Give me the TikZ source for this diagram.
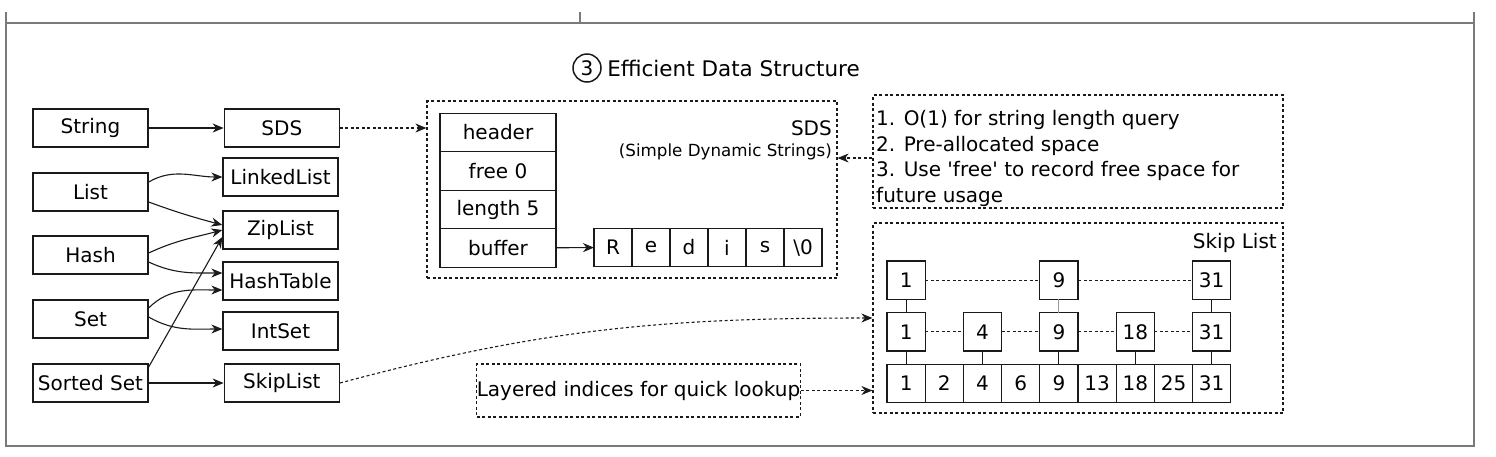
\documentclass[tikz,border=0pt]{standalone}
\usepackage{fontspec}
\setmainfont{DejaVu Sans}
\usepackage{tikz}
\usetikzlibrary{arrows.meta,positioning,calc}
\definecolor{inkgray}{HTML}{1A1A1A}
\definecolor{framegray}{HTML}{7A7A7A}
\newcommand\diagfont{\fontsize{20}{23}\selectfont}
\newcommand\notefont{\fontsize{16.7}{19}\selectfont}

\begin{document}
\begin{tikzpicture}[x=1pt,y=-1pt,
  node distance=0pt,
  typebox/.style={draw=inkgray, line width=1.3pt, minimum width=115pt,
    minimum height=38pt, inner sep=0pt, font=\diagfont},
  field/.style={draw=inkgray, line width=1.3pt, minimum width=116pt,
    minimum height=38.5pt, inner sep=0pt, outer sep=0pt, font=\diagfont},
  cell/.style={draw=inkgray, line width=1.3pt, minimum size=38.2pt,
    inner sep=0pt, outer sep=0pt, font=\diagfont},
  region/.style={draw=inkgray, line width=1.2pt, dash pattern=on 3pt off 2.5pt,
    font=\diagfont},
  arrow/.style={-{Stealth[length=11pt,width=9pt,inset=3.5pt]}, line width=1.1pt, draw=inkgray},
  hint/.style={arrow, dash pattern=on 3pt off 2.5pt},
  link/.style={line width=1.1pt, draw=inkgray, dash pattern=on 3pt off 2.5pt},
  rung/.style={line width=1.1pt, draw=inkgray},
  frame/.style={line width=1.6pt, draw=framegray}
]
\useasboundingbox (0,0) rectangle (1496,456);
% outer frame
\draw[frame] (6,12) -- (6,446) -- (1474,446) -- (1474,12);
\draw[frame] (6,23) -- (1474,23);
\draw[frame] (580,12) -- (580,23);

% title
\node[circle, draw=inkgray, line width=1.5pt, minimum size=28pt, inner sep=0pt,
  font=\diagfont] (badge) at (587,68) {3};
\node[right=2pt of badge, font=\fontsize{21.5}{24}\selectfont] (title) {Efficient Data Structure};

% data types and encodings
\node[typebox] (string) at (90.5,128) {String};
\node[typebox, right=75pt of string] (sds) {SDS};
\node[typebox] (list) at (90.5,192) {List};
\node[typebox] (hash) at (90.5,255) {Hash};
\node[typebox] (set) at (90.5,319) {Set};
\node[typebox] (zset) at (90.5,383) {Sorted Set};
\node[typebox] (linkedlist) at (280.5,177) {LinkedList};
\node[typebox] (ziplist) at (280.5,230) {ZipList};
\node[typebox] (hashtable) at (280.5,281) {HashTable};
\node[typebox] (intset) at (280.5,331) {IntSet};
\node[typebox, right=75pt of zset] (skiplist) {SkipList};

\draw[arrow] (string) -- (sds);
\draw[arrow] ([yshift=10pt]list.east) to[out=30,in=180] (linkedlist.west);
\draw[arrow] ([yshift=-10pt]list.east) to[out=-20,in=165] ([yshift=5pt]ziplist.west);
\draw[arrow] ([yshift=2pt]hash.east) to[out=25,in=195] (ziplist.west);
\draw[arrow] ([yshift=-7pt]hash.east) to[out=-25,in=180] ([yshift=8pt]hashtable.west);
\draw[arrow] ([yshift=11pt]set.east) to[out=45,in=180] ([yshift=-9pt]hashtable.west);
\draw[arrow] ([yshift=2pt]set.east) to[out=-30,in=180] ([yshift=2pt]intset.west);
\draw[arrow] ([yshift=16pt]zset.east) -- ([yshift=-7pt]ziplist.west);
\draw[arrow] (zset) -- (skiplist);

% SDS layout
\node[region, minimum width=410pt, minimum height=177pt] (sdsbox) at (632,189.5) {};
\node[field] (header) at (498,132.5) {header};
\node[field, below=of header] (free) {free 0};
\node[field, below=of free] (length) {length 5};
\node[field, below=of length] (buffer) {buffer};
\node[cell, minimum size=38pt] (cR) at (613,247.5) {R};
\node[cell, minimum size=38pt, right=of cR] (ce) {e};
\node[cell, minimum size=38pt, right=of ce] (cd) {d};
\node[cell, minimum size=38pt, right=of cd] (ci) {i};
\node[cell, minimum size=38pt, right=of ci] (cs) {s};
\node[cell, minimum size=38pt, right=of cs] (cnul) {\textbackslash 0};
\draw[arrow] (buffer) -- (cR);
\node[anchor=east, inner sep=0pt, font=\diagfont] (sdstitle) at (832,128) {SDS};
\node[anchor=east, inner sep=0pt, font=\notefont] (sdsfull) at (832,152) {(Simple Dynamic Strings)};
\draw[hint] (sds) -- (sds -| sdsbox.west);

% SDS notes
\node[region, minimum width=410pt, minimum height=113pt] (notes) at (1078,151.5) {};
\node[anchor=north west, align=left, inner sep=0pt,
  font=\fontsize{20}{25.5}\selectfont] (notetext) at (876,110.5) {1. O(1) for string length query\\
  2. Pre-allocated space\\
  3. Use \textquotesingle free\textquotesingle{} to record free space for\\
  future usage};
\coordinate (noteport) at ([yshift=-6.5pt]notes.west);
\draw[hint] (noteport) -- (noteport -| sdsbox.east);

% skip list
\node[region, minimum width=410pt, minimum height=190pt] (skipbox) at (1078,318) {};
\node[anchor=east, inner sep=0pt, font=\diagfont] (skiptitle) at (1277,243) {Skip List};
\node[cell] (b1) at (906.1,383.5) {1};
\node[cell, right=of b1] (b2) {2};
\node[cell, right=of b2] (b3) {4};
\node[cell, right=of b3] (b4) {6};
\node[cell, right=of b4] (b5) {9};
\node[cell, right=of b5] (b6) {13};
\node[cell, right=of b6] (b7) {18};
\node[cell, right=of b7] (b8) {25};
\node[cell, right=of b8] (b9) {31};
\node[cell, above=13.5pt of b1] (m1) {1};
\node[cell, above=13.5pt of b3] (m4) {4};
\node[cell, above=13.5pt of b5] (m9) {9};
\node[cell, above=13.5pt of b7] (m18) {18};
\node[cell, above=13.5pt of b9] (m31) {31};
\node[cell, above=13.5pt of m1] (t1) {1};
\node[cell, above=13.5pt of m9] (t9) {9};
\node[cell, above=13.5pt of m31] (t31) {31};
\draw[rung] (m1) -- (b1);
\draw[rung] (m4) -- (b3);
\draw[rung] (m9) -- (b5);
\draw[rung] (m18) -- (b7);
\draw[rung] (m31) -- (b9);
\draw[rung] (t1) -- (m1);
\draw[rung, draw=inkgray!45] (t9) -- (m9);
\draw[rung] (t31) -- (m31);
\draw[link] (t1) -- (t9);
\draw[link] (t9) -- (t31);
\draw[link] (m1) -- (m4);
\draw[link] (m4) -- (m9);
\draw[link] (m9) -- (m18);
\draw[link] (m18) -- (m31);

% lookup hint
\node[region, minimum width=319pt, minimum height=53pt, inner sep=0pt] (lookup) at (638.5,390.5) {Layered indices for quick lookup};
\draw[hint] (lookup) -- (lookup -| skipbox.west);
\draw[hint] (skiplist.east) to[out=15,in=180] (skipbox.west);
\end{tikzpicture}
\end{document}
